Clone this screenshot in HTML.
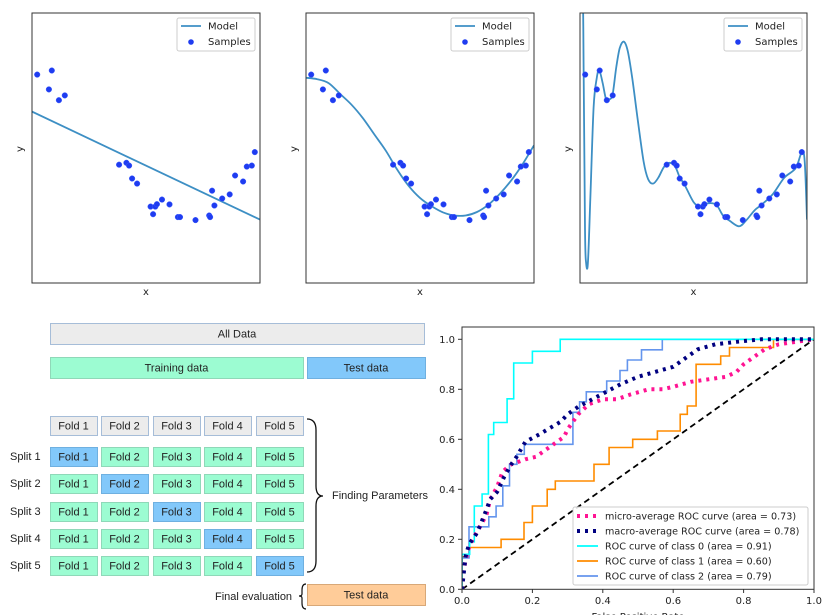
<!DOCTYPE html>
<html><head><meta charset="utf-8">
<style>
html,body{margin:0;padding:0;background:#fff;}
body{width:826px;height:615px;overflow:hidden;position:relative;font-family:"Liberation Sans","DejaVu Sans",sans-serif;}
svg{position:absolute;left:0;top:0;}
text{font-family:"DejaVu Sans","Liberation Sans",sans-serif;}
text.lib{font-family:"Liberation Sans","DejaVu Sans",sans-serif;}
</style></head>
<body>
<svg id="root" width="826" height="615" viewBox="0 0 826 615">
<defs>
<clipPath id="c1"><rect x="32" y="13" width="228" height="270"/></clipPath>
<clipPath id="c2"><rect x="306" y="13" width="228" height="270"/></clipPath>
<clipPath id="c3"><rect x="580" y="13" width="227" height="270"/></clipPath>
<clipPath id="cr"><rect x="462" y="327" width="352" height="262"/></clipPath>
</defs>
<g id="topPanels"></g>
<g id="cvDiagram"></g>
<g id="rocChart"></g>
</svg>
<script>
// ---- Data: samples (normalized x, y) ----
const sampleX=[0.023,0.087,0.074,0.118,0.144,0.382,0.414,0.426,0.439,0.461,0.520,0.531,0.541,0.548,0.570,0.603,0.640,0.649,0.717,0.777,0.781,0.790,0.800,0.834,0.867,0.891,0.926,0.942,0.964,0.977];
const sampleY=[0.772,0.787,0.717,0.677,0.695,0.438,0.445,0.435,0.387,0.368,0.283,0.255,0.283,0.292,0.309,0.291,0.244,0.244,0.233,0.250,0.244,0.342,0.287,0.313,0.328,0.398,0.376,0.431,0.435,0.485];
const model1X=[0,1];
const model1Y=[0.635,0.235];
const model2X=[0,0.05,0.1,0.15,0.2,0.25,0.3,0.35,0.4,0.45,0.5,0.55,0.6,0.65,0.7,0.75,0.8,0.85,0.9,0.95,1];
const model2Y=[0.76,0.755,0.74,0.70,0.66,0.61,0.55,0.49,0.42,0.36,0.315,0.285,0.262,0.25,0.25,0.263,0.29,0.33,0.38,0.44,0.51];
const model3X=[0,0.01,0.016,0.022,0.027,0.035,0.045,0.06,0.074,0.085,0.1,0.115,0.13,0.144,0.16,0.175,0.193,0.21,0.23,0.255,0.28,0.3,0.322,0.345,0.37,0.395,0.42,0.44,0.46,0.5,0.53,0.56,0.6,0.63,0.66,0.7,0.73,0.77,0.8,0.85,0.9,0.95,0.977,0.99,1.0];
const model3Y=[1.3,1.3,0.8,0.2,0.075,0.075,0.3,0.65,0.76,0.787,0.74,0.68,0.68,0.70,0.80,0.87,0.894,0.86,0.76,0.6,0.45,0.385,0.368,0.39,0.43,0.445,0.43,0.39,0.365,0.3,0.283,0.295,0.29,0.25,0.23,0.21,0.23,0.27,0.29,0.33,0.39,0.425,0.485,0.45,0.235];

// ---- ROC data ----
const rocTicks=[0.0,0.2,0.4,0.6,0.8,1.0];
const rocTickLabels=["0.0","0.2","0.4","0.6","0.8","1.0"];
const c0F=[0,0,0.022,0.022,0.035,0.035,0.057,0.057,0.075,0.075,0.09,0.09,0.128,0.128,0.147,0.147,0.2,0.2,0.279,0.279,1];
const c0T=[0,0.14,0.14,0.19,0.19,0.333,0.333,0.381,0.381,0.619,0.619,0.667,0.667,0.762,0.762,0.905,0.905,0.952,0.952,1,1];
const c1F=[0,0,0.02,0.02,0.111,0.111,0.176,0.176,0.2,0.2,0.242,0.242,0.265,0.265,0.375,0.375,0.418,0.418,0.485,0.485,0.555,0.555,0.62,0.62,0.64,0.64,0.665,0.665,0.735,0.735,0.76,0.76,0.885,0.885,1];
const c1T=[0,0.13,0.13,0.167,0.167,0.2,0.2,0.267,0.267,0.333,0.333,0.4,0.4,0.433,0.433,0.5,0.5,0.567,0.567,0.6,0.6,0.633,0.633,0.7,0.7,0.733,0.733,0.9,0.9,0.933,0.933,0.967,0.967,1,1];
const c2F=[0,0,0.02,0.02,0.076,0.076,0.097,0.097,0.116,0.116,0.135,0.135,0.156,0.156,0.177,0.177,0.315,0.315,0.334,0.334,0.353,0.353,0.411,0.411,0.449,0.449,0.47,0.47,0.51,0.51,0.569,0.569,1];
const c2T=[0,0.125,0.125,0.25,0.25,0.29,0.29,0.333,0.333,0.414,0.414,0.5,0.5,0.54,0.54,0.58,0.58,0.708,0.708,0.75,0.75,0.79,0.79,0.833,0.833,0.875,0.875,0.917,0.917,0.958,0.958,1,1];
const microF=[0,0.005,0.015,0.03,0.055,0.07,0.08,0.1,0.115,0.14,0.18,0.21,0.24,0.27,0.29,0.3,0.33,0.36,0.4,0.44,0.48,0.53,0.57,0.6,0.65,0.7,0.75,0.78,0.8,0.83,0.86,0.9,0.95,1];
const microT=[0,0.08,0.15,0.2,0.26,0.3,0.36,0.41,0.47,0.5,0.52,0.53,0.56,0.59,0.61,0.64,0.7,0.74,0.76,0.76,0.78,0.8,0.8,0.81,0.83,0.84,0.85,0.87,0.9,0.93,0.96,0.98,0.99,1];
const macroF=[0,0.01,0.02,0.04,0.05,0.07,0.08,0.1,0.12,0.14,0.155,0.18,0.22,0.25,0.28,0.3,0.33,0.37,0.41,0.45,0.5,0.55,0.6,0.64,0.67,0.72,0.78,0.85,1];
const macroT=[0,0.13,0.18,0.22,0.25,0.32,0.36,0.39,0.45,0.5,0.53,0.59,0.62,0.645,0.67,0.7,0.73,0.76,0.79,0.82,0.85,0.87,0.89,0.93,0.96,0.98,0.99,1,1];
const legendLabels=["micro-average ROC curve (area = 0.73)","macro-average ROC curve (area = 0.78)","ROC curve of class 0 (area = 0.91)","ROC curve of class 1 (area = 0.60)","ROC curve of class 2 (area = 0.79)"];

// ---- CV diagram data ----
const foldNames=["Fold 1","Fold 2","Fold 3","Fold 4","Fold 5"];
const splitNames=["Split 1","Split 2","Split 3","Split 4","Split 5"];

const NS="http://www.w3.org/2000/svg";
function mk(tag,attrs,parent,txt){const e=document.createElementNS(NS,tag);for(const k in attrs)e.setAttribute(k,attrs[k]);if(txt!==undefined)e.textContent=txt;parent.appendChild(e);return e;}
function smoothPath(P){
  if(P.length<3)return P.map((p,k)=>(k?'L':'M')+p[0].toFixed(1)+','+p[1].toFixed(1)).join('');
  let d='M'+P[0][0].toFixed(1)+','+P[0][1].toFixed(1);
  for(let i=0;i<P.length-1;i++){
    const p0=P[i-1]||P[i],p1=P[i],p2=P[i+1],p3=P[i+2]||P[i+1];
    const c1=[p1[0]+(p2[0]-p0[0])/6,p1[1]+(p2[1]-p0[1])/6];
    const c2=[p2[0]-(p3[0]-p1[0])/6,p2[1]-(p3[1]-p1[1])/6];
    d+='C'+c1[0].toFixed(1)+','+c1[1].toFixed(1)+' '+c2[0].toFixed(1)+','+c2[1].toFixed(1)+' '+p2[0].toFixed(1)+','+p2[1].toFixed(1);
  }
  return d;
}

// ---------- Top panels ----------
const topG=document.getElementById('topPanels');
const panels=[{x0:32,w:228,clip:'c1',mx:model1X,my:model1Y},{x0:306,w:228,clip:'c2',mx:model2X,my:model2Y},{x0:580,w:227,clip:'c3',mx:model3X,my:model3Y}];
panels.forEach((p,i)=>{
  const y0=13,h=270;
  const sx=v=>p.x0+v*p.w, sy=v=>y0+h-v*h;
  const g=mk('g',{},topG);
  
  
  const d=smoothPath(p.mx.map((v,k)=>[sx(v),sy(p.my[k])]));
  const ln=mk('path',{d:d,fill:'none',stroke:'#3d8fc4','stroke-width':1.8,'clip-path':'url(#'+p.clip+')'},g);
  
  
  sampleX.forEach((v,k)=>{
    const c=mk('circle',{cx:sx(v).toFixed(1),cy:sy(sampleY[k]).toFixed(1),r:2.8,fill:'#1f3cf0',stroke:'#3b5bff','stroke-width':0.5},g);
    
    
  });
  const fr=mk('rect',{x:p.x0,y:y0,width:p.w,height:h,fill:'none',stroke:'#333','stroke-width':1},g);
  
  
  const xl=mk('text',{x:p.x0+p.w/2,y:295,'font-size':10,'text-anchor':'middle',fill:'#222'},g,'x');
  
  
  const yl=mk('text',{x:0,y:0,'font-size':10,'text-anchor':'middle',fill:'#222',transform:'translate('+(p.x0-9)+',149) rotate(-90)'},g,'y');
  
  
  const lx=p.x0+p.w-83;
  const lg=mk('g',{},g);
  
  
  mk('rect',{x:lx,y:18,width:78,height:33,rx:2,fill:'#fff',stroke:'#ccc'},lg);
  mk('line',{x1:lx+4,y1:26,x2:lx+24,y2:26,stroke:'#3d8fc4','stroke-width':1.8},lg);
  mk('text',{x:lx+31,y:29.5,'font-size':10,fill:'#222'},lg,'Model');
  mk('circle',{cx:lx+14,cy:42,r:2.8,fill:'#1f3cf0'},lg);
  mk('text',{x:lx+31,y:45,'font-size':10,fill:'#222'},lg,'Samples');
});

// ---------- CV diagram ----------
const cvG=document.getElementById('cvDiagram');
const GRAY='#ececec',GREEN='#9cfcd2',BLUE='#82c8fa',ORANGE='#ffcc99',BORD='#a6bdd8';
function box(x,y,w,h,fill,label,name,bord){
  const g=mk('g',{},cvG);
  
  
  mk('rect',{x:x+0.5,y:y+0.5,width:w,height:h,fill:fill,stroke:bord||BORD,'stroke-width':1},g);
  mk('text',{x:x+w/2,y:y+h/2+4,'font-size':11,'text-anchor':'middle',fill:'#222','class':'lib'},g,label);
}
box(50,323,374,21,GRAY,'All Data','all-data-bar');
box(50,357,253,21,GREEN,'Training data','training-data-bar','#8fd8b8');
box(307,357,118,21,BLUE,'Test data','test-data-bar','#6fb0e0');
const foldX=[50,101,153,204,256];
foldNames.forEach((f,k)=>box(foldX[k],416,47,19,GRAY,f,'fold-header-'+(k+1)));
const rowY=[447,474,502,529,556];
splitNames.forEach((s,r)=>{
  const t=mk('text',{x:10,y:rowY[r]+13,'font-size':11,fill:'#222','class':'lib'},cvG,s);
  
  
  foldNames.forEach((f,k)=>box(foldX[k],rowY[r],47,19,k===r?BLUE:GREEN,f,'split'+(r+1)+'-fold'+(k+1),k===r?'#6fb0e0':'#8fd8b8'));
});
const br=mk('path',{d:'M307,419 Q316,419 316,430 L316,486 Q316,496 323,496 Q316,496 316,506 L316,561 Q316,572 307,572',fill:'none',stroke:'#111','stroke-width':1.3},cvG);


const fp=mk('text',{x:332,y:499,'font-size':11,fill:'#222','class':'lib'},cvG,'Finding Parameters');


const br2=mk('path',{d:'M306,584 Q302,584 302,590 L302,594 Q302,596 299,596 Q302,596 302,598 L302,603 Q302,609 306,609',fill:'none',stroke:'#111','stroke-width':1.2},cvG);


const fe=mk('text',{x:215,y:600,'font-size':11,fill:'#222','class':'lib'},cvG,'Final evaluation');


box(307,584,118,21,ORANGE,'Test data','final-test-data-bar','#d8a878');

// ---------- ROC ----------
const rocG=document.getElementById('rocChart');
const RX0=462,RX1=814,RY0=589.3,RYS=250;
const rx=v=>RX0+v*(RX1-RX0), ry=v=>RY0-v*RYS;
rocTicks.forEach((t,k)=>{
  const a=mk('line',{x1:rx(t),y1:589,x2:rx(t),y2:593,stroke:'#333'},rocG);
  
  
  const b=mk('text',{x:rx(t),y:604,'font-size':10,'text-anchor':'middle',fill:'#222'},rocG,rocTickLabels[k]);
  
  
  const c=mk('line',{x1:458,y1:ry(t),x2:462,y2:ry(t),stroke:'#333'},rocG);
  
  
  const e=mk('text',{x:455,y:ry(t)+3.5,'font-size':10,'text-anchor':'end',fill:'#222'},rocG,rocTickLabels[k]);
  
  
});
const xt=mk('text',{x:638,y:620,'font-size':10,'text-anchor':'middle',fill:'#222'},rocG,'False Positive Rate');


function series(F,T,color,w,dash,name){
  const d=F.map((v,k)=>(k?'L':'M')+rx(v).toFixed(1)+','+ry(T[k]).toFixed(1)).join('');
  const a={d:d,fill:'none',stroke:color,'stroke-width':w,'clip-path':'url(#cr)'};
  if(dash)a['stroke-dasharray']=dash;
  const p=mk('path',a,rocG);
  
  
}
series([0,1],[0,1],'#000',1.8,'6,4','chance-diagonal');
series(c1F,c1T,'#ff8c00',1.6,null,'roc-class-1');
series(c2F,c2T,'#6495ed',1.6,null,'roc-class-2');
series(c0F,c0T,'#00ffff',1.6,null,'roc-class-0');
series(microF,microT,'#ff1493',4,'3,5','roc-micro-average');
series(macroF,macroT,'#000080',4,'3,5','roc-macro-average');
const rf=mk('rect',{x:462,y:327,width:352,height:262.3,fill:'none',stroke:'#333','stroke-width':1},rocG);


const rlg=mk('g',{},rocG);


mk('rect',{x:573,y:507,width:235,height:78,rx:2,fill:'#fff','fill-opacity':0.85,stroke:'#ccc'},rlg);
const lcol=['#ff1493','#000080','#00ffff','#ff8c00','#6495ed'];
const ldash=['3,5','3,5',null,null,null];
const lw=[4,4,1.8,1.8,1.8];
legendLabels.forEach((s,k)=>{
  const y=516+k*15;
  const a={x1:577,y1:y,x2:598,y2:y,stroke:lcol[k],'stroke-width':lw[k]};
  if(ldash[k])a['stroke-dasharray']=ldash[k];
  const l=mk('line',a,rlg);
  
  
  const t=mk('text',{x:605,y:y+3.5,'font-size':9.6,fill:'#222'},rlg,s);
  
  
});
</script>
</body></html>
